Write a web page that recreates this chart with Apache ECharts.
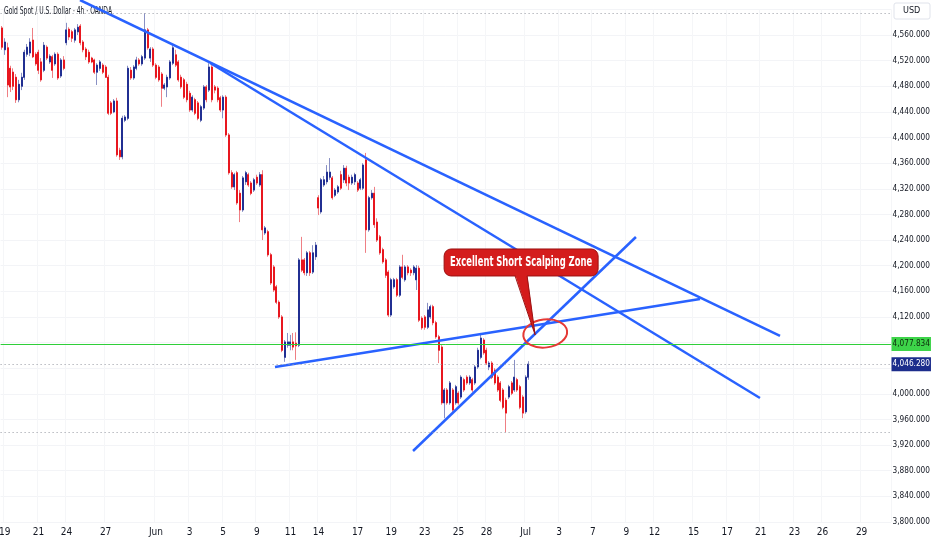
<!DOCTYPE html>
<html><head><meta charset="utf-8">
<script src="https://cdn.jsdelivr.net/npm/echarts@6/dist/echarts.min.js"></script>
<style>html,body{margin:0;padding:0;background:#fff}#c{width:932px;height:550px}</style>
</head><body><div id="c"></div>
<script>
// ---- data (4h candles) ----
const opens = [4571,4537,4540,4508,4502,4494,4459,4480,4494,4530,4532,4552,4530,4533,4518,4505,4541,4518,4526,4515,
4530,4496,4521,4548,4569,4565,4552,4565,4574,4549,4538,4533,4524,4521,4502,4508,4513,4510,4494,4454,
4440,4457,4380,4370,4427,4430,4505,4493,4508,4521,4515,4524,4568,4524,4538,4513,4510,4499,4477,4479,
4493,4516,4529,4518,4494,4490,4483,4469,4443,4459,4454,4427,4446,4479,4474,4510,4479,4477,4462,4443,
4463,4404,4345,4323,4345,4313,4287,4331,4342,4329,4318,4338,4326,4342,4251,4253,4217,4198,4167,4143,
4120,4057,4076,4076,4081,4079,4076,4209,4209,4189,4220,4190,4214,4306,4284,4326,4331,4338,4337,4310,
4315,4342,4334,4352,4338,4329,4331,4329,4321,4321,4365,4256,4306,4313,4268,4245,4225,4209,4190,4123,
4167,4178,4154,4198,4178,4198,4193,4189,4178,4196,4118,4120,4104,4120,4136,4111,4089,4073,3986,4006,
3986,4006,3986,4001,3995,4022,4026,4017,4022,4017,4042,4057,4084,4068,4042,4048,4037,4026,4017,4006,
3990,3995,4017,4006,4022,4011,3995,3972,4026];
const closes = [4541,4549,4482,4479,4480,4459,4483,4494,4533,4541,4549,4526,4515,4505,4490,4544,4524,4527,4505,4530,
4493,4521,4508,4568,4557,4555,4568,4572,4548,4537,4526,4518,4518,4502,4513,4518,4502,4494,4438,4438,
4457,4373,4370,4430,4432,4508,4493,4510,4521,4515,4526,4568,4540,4538,4513,4494,4490,4477,4482,4494,
4518,4540,4513,4490,4479,4463,4459,4443,4463,4438,4430,4448,4479,4459,4510,4459,4474,4459,4443,4463,
4404,4345,4323,4342,4298,4287,4337,4345,4326,4313,4334,4329,4342,4256,4259,4217,4173,4162,4143,4120,
4068,4081,4081,4081,4073,4075,4209,4193,4189,4220,4189,4220,4232,4290,4334,4334,4346,4346,4306,4318,
4323,4321,4352,4329,4329,4338,4342,4318,4334,4357,4256,4306,4313,4264,4240,4220,4206,4185,4123,4178,
4178,4154,4198,4182,4198,4189,4189,4198,4196,4115,4103,4104,4131,4136,4111,4089,4068,3986,4006,3986,
4017,3975,4011,3986,4026,4006,4017,4026,4006,4042,4068,4087,4064,4048,4048,4026,4017,4006,3990,3979,
3970,4011,4001,4026,4006,3979,3970,4026,4046.28];
const lows = [4537,4529,4463,4471,4474,4454,4455,4474,4490,4526,4527,4524,4512,4499,4487,4502,4521,4515,4493,4512,
4490,4493,4505,4544,4552,4549,4548,4560,4544,4533,4521,4515,4516,4499,4482,4504,4499,4493,4435,4435,
4438,4370,4365,4366,4424,4427,4490,4490,4505,4512,4512,4521,4537,4518,4510,4491,4487,4448,4474,4463,
4490,4513,4510,4487,4476,4460,4455,4440,4440,4435,4427,4424,4443,4455,4471,4455,4469,4455,4440,4430,
4401,4342,4320,4318,4295,4268,4284,4326,4323,4310,4315,4326,4323,4240,4248,4214,4170,4159,4140,4117,
4065,4050,4072,4068,4068,4053,4073,4190,4185,4184,4184,4187,4209,4279,4281,4323,4327,4334,4303,4307,
4312,4318,4329,4324,4318,4326,4326,4315,4318,4318,4220,4253,4303,4259,4237,4217,4203,4181,4120,4120,
4164,4151,4151,4179,4175,4185,4184,4185,4162,4112,4100,4100,4101,4117,4107,4086,4048,3983,3962,3983,
3983,3972,3983,3983,3992,4003,4014,4014,4003,4014,4039,4054,4061,4045,4037,4023,4014,4003,3987,3976,
3940,3992,3998,4003,4003,3976,3962,3969,4022];
const highs = [4574,4555,4548,4512,4508,4499,4490,4501,4537,4546,4555,4571,4533,4537,4524,4549,4544,4530,4529,4533,
4533,4524,4527,4579,4572,4568,4571,4577,4577,4552,4541,4537,4526,4523,4516,4521,4516,4513,4498,4457,
4460,4462,4384,4434,4435,4512,4510,4513,4526,4524,4529,4594,4571,4541,4541,4516,4513,4502,4485,4498,
4521,4544,4537,4521,4498,4493,4487,4473,4466,4462,4457,4451,4482,4482,4516,4513,4482,4480,4465,4466,
4466,4407,4349,4345,4348,4318,4340,4348,4345,4332,4337,4342,4346,4349,4262,4256,4220,4201,4170,4146,
4123,4084,4095,4092,4095,4096,4212,4245,4212,4223,4223,4232,4237,4310,4337,4340,4357,4368,4340,4321,
4326,4348,4357,4356,4342,4342,4345,4332,4337,4360,4376,4309,4318,4323,4274,4248,4228,4212,4193,4181,
4181,4181,4201,4217,4201,4201,4196,4201,4201,4200,4121,4123,4142,4139,4139,4114,4092,4076,4009,4009,
4020,4009,4014,4004,4029,4025,4029,4029,4025,4045,4072,4095,4087,4072,4051,4051,4040,4029,4020,4009,
3994,4014,4020,4053,4025,4014,3998,4029,4051];
// day-start bar index and its label
const tickIndex  = [1,13,23,37,55,67,79,91,103,113,127,139,151,163,173,187,199,211,223,233,247,259,271,283,293,307];
const tickLabels = ['19','21','24','27','Jun','3','5','9','11','14','17','19','23','25','28','Jul','3','7','9','12','15','17','21','23','26','29'];
const slotCount = 318;            // bars shown incl. future space
const greenLevel = 4077.834;
const trendLines = [
  [[27.86, 4614.6], [277.86, 4090.3]],
  [[74.36, 4516.3], [270.7, 3993.5]],
  [[146.8, 3910.8], [226.4, 4244.8]],
  [[97.5, 4041.9], [249.3, 4148.0]]
];
const calloutText = 'Excellent Short Scalping Zone';
const calloutBox = [185.4, 4205.0];
const calloutTip = [190.4, 4092];
const zoneCenter = [194.0, 4094.2];
const titleText = 'Gold Spot / U.S. Dollar · 4h · OANDA';

// ---- build ----
const FONT = "'Liberation Sans Narrow','DejaVu Sans Condensed','Liberation Sans',sans-serif";
const mctx = document.createElement('canvas').getContext('2d');
function textWidth(font, s){ mctx.font = font; return mctx.measureText(s).width; }
const PRICE_FS = Math.min(10, 10 * 37.5 / textWidth('10px ' + FONT, '4,560.000'));
const lastClose = closes[closes.length - 1];
const maxHigh = Math.max.apply(null, highs);
const minLow = Math.min.apply(null, lows);
function fmt(v){ const s = Number(v).toFixed(3).split('.'); return s[0].replace(/\B(?=(\d{3})+(?!\d))/g, ',') + '.' + s[1]; }
const labelFor = {};
tickIndex.forEach((t, k) => labelFor[t] = tickLabels[k]);
const categories = Array.from({length: slotCount}, (_, i) => String(i));
const ohlc = opens.map((o, i) => [o, closes[i], lows[i], highs[i]]);
const bodies = opens.map((o, i) => [o, closes[i], Math.min(o, closes[i]), Math.max(o, closes[i])]);

const UP = '#1c2a90', DOWN = '#e8121a', UPW = '#8990c4', DOWNW = '#ef7f84', BLUE = '#2962ff';
const chart = echarts.init(document.getElementById('c'), null, {renderer: 'canvas'});
const dotted = {color: '#9598a1', width: 1, type: [1, 3]};
chart.setOption({
  animation: false,
  backgroundColor: '#ffffff',
  grid: {left: 0.6, right: 41, top: 9.37, bottom: 28, containLabel: false, outerBoundsMode: 'none'},
  xAxis: [
    {type: 'category', data: categories, boundaryGap: true,
     axisLine: {show: false}, axisTick: {show: false},
     axisLabel: {interval: 0, margin: 5, color: '#131722', fontSize: 10, fontFamily: FONT,
                 formatter: (v, i) => labelFor[i] || ''},
     splitLine: {show: true, interval: (i) => labelFor[i] !== undefined, lineStyle: {color: '#f5f6f8', width: 1}}},
    {type: 'value', min: -0.5, max: slotCount - 0.5, show: false}
  ],
  yAxis: {type: 'value', position: 'right', min: 3800, max: 4600, interval: 40, scale: false,
    axisLine: {show: false}, axisTick: {show: false},
    splitLine: {lineStyle: {color: '#f3f4f7', width: 1}},
    axisLabel: {margin: 1.5, color: '#131722', fontSize: PRICE_FS, fontFamily: FONT,
      formatter: v => (v >= 4600 || Math.abs(v - greenLevel) < 20 || Math.abs(v - lastClose) < 20) ? '' : fmt(v)}},
  series: [
    {type: 'candlestick', name: 'wick', data: ohlc, barWidth: 1.6, silent: true,
     itemStyle: {color: UPW, color0: DOWNW, borderColor: UPW, borderColor0: DOWNW, borderWidth: 1}},
    {type: 'candlestick', name: 'body', data: bodies, barWidth: 1.6, silent: true,
     itemStyle: {color: UP, color0: DOWN, borderColor: UP, borderColor0: DOWN, borderWidth: 0.9},
     markLine: {silent: true, symbol: ['none', 'none'], animation: false,
       data: [
         {yAxis: maxHigh, lineStyle: dotted, label: {show: false}},
         {yAxis: minLow, lineStyle: dotted, label: {show: false}},
         {yAxis: lastClose, lineStyle: dotted,
          label: {show: true, position: 'end', distance: 0.5, formatter: fmt(lastClose), color: '#ffffff',
                  backgroundColor: '#1c2d8c', padding: [3, 1, 3, 1], fontSize: PRICE_FS, fontFamily: FONT}},
         {yAxis: greenLevel, lineStyle: {color: '#2fcf3a', width: 1, type: 'solid'},
          label: {show: true, position: 'end', distance: 0.5, formatter: fmt(greenLevel), color: '#0d2b0d',
                  backgroundColor: '#3dd449', padding: [3, 1, 3, 1], fontSize: PRICE_FS, fontFamily: FONT}}
       ]}},
  ].concat(trendLines.map(seg => ({
    type: 'line', xAxisIndex: 1, yAxisIndex: 0, data: seg, symbol: 'none', clip: false, silent: true,
    lineStyle: {color: BLUE, width: 2.5}
  })))
});

// ---- annotations anchored to data coordinates ----
const px = p => chart.convertToPixel({xAxisIndex: 1, yAxisIndex: 0}, p);
const b = px(calloutBox), t = px(calloutTip), z = px(zoneCenter);
const bw = 154, bh = 27;
const x0 = b[0] - bw / 2, y0 = b[1] - bh / 2, y1 = b[1] + bh / 2;
const tl = b[0] - 6, tr = b[0] + 6;
const FILL = '#d41c1c', EDGE = '#9c1111';
const CALLOUT_FONT = 'bold 14px ' + FONT;
const TITLE_FONT = '11px ' + FONT;
const textScale = Math.min(1, 142 / textWidth(CALLOUT_FONT, calloutText));
const titleScale = Math.min(1, 108 / textWidth(TITLE_FONT, titleText));
chart.setOption({
  graphic: [
    {type: 'text', x: 4, y: 11, scaleX: titleScale, silent: true,
     style: {text: titleText, fill: '#131722', font: TITLE_FONT, verticalAlign: 'middle'}},
    {type: 'rect', shape: {x: 894, y: 3, width: 36, height: 16, r: 2}, silent: true,
     style: {fill: '#ffffff', stroke: '#e0e3eb', lineWidth: 1}},
    {type: 'text', x: 903, y: 11, silent: true,
     style: {text: 'USD', fill: '#131722', font: '9px ' + FONT, verticalAlign: 'middle'}},
    {type: 'ellipse', shape: {cx: z[0], cy: z[1], rx: 22, ry: 14}, silent: true, z: 100,
     originX: z[0], originY: z[1], rotation: 0.12,
     style: {fill: 'none', stroke: '#e53935', lineWidth: 2}},
    {type: 'rect', shape: {x: x0, y: y0, width: bw, height: bh, r: 7}, silent: true, z: 101,
     style: {fill: FILL, stroke: EDGE, lineWidth: 1}},
    {type: 'polygon', shape: {points: [[tl, y1 - 1.5], [t[0], t[1]], [tr, y1 - 1.5]]}, silent: true, z: 102,
     style: {fill: FILL, stroke: null}},
    {type: 'polyline', shape: {points: [[tl, y1], [t[0], t[1]], [tr, y1]]}, silent: true, z: 103,
     style: {fill: null, stroke: EDGE, lineWidth: 1}},
    {type: 'text', x: b[0], y: b[1], scaleX: textScale, silent: true, z: 104,
     style: {text: calloutText, fill: '#ffffff', font: CALLOUT_FONT,
             align: 'center', verticalAlign: 'middle'}}
  ]
});
</script>
</body></html>
